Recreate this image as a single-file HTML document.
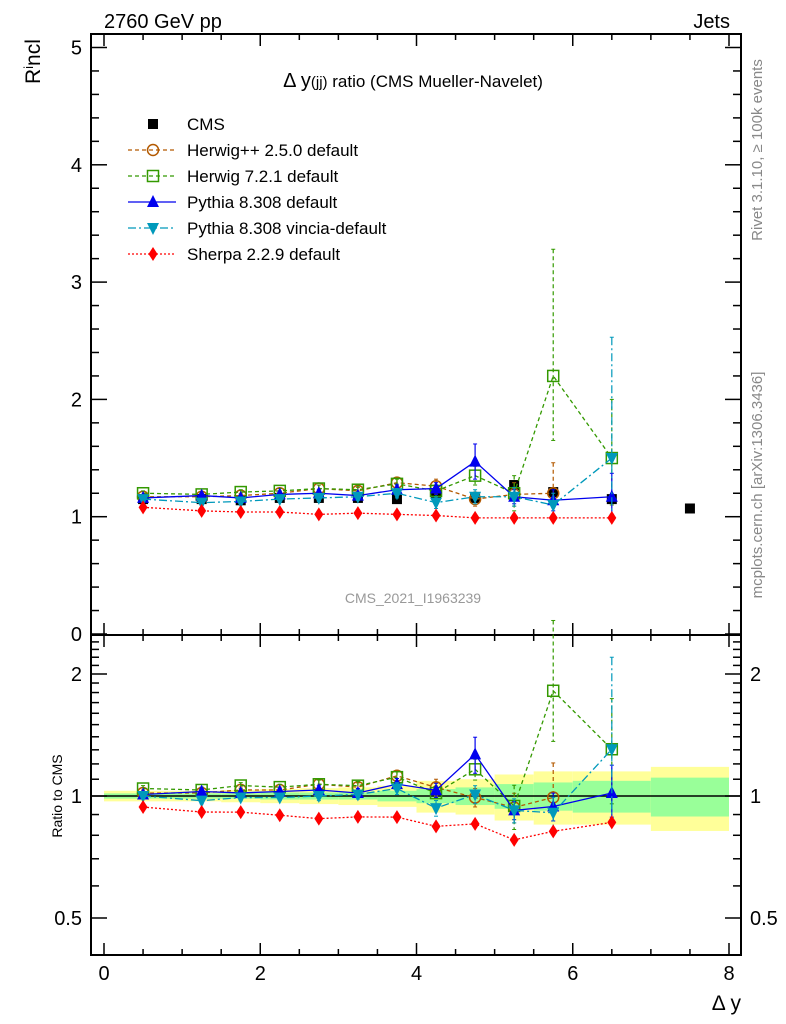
<!DOCTYPE html>
<html><head><meta charset="utf-8"><style>
body{margin:0;background:#fff}
svg{display:block;font-family:"Liberation Sans",sans-serif}
</style></head><body>
<svg id="c" width="786" height="1024" viewBox="0 0 786 1024">
<text x="104" y="28" font-size="20">2760 GeV pp</text>
<text x="730" y="28" font-size="20" text-anchor="end">Jets</text>
<text x="413" y="87" font-size="17" text-anchor="middle"><tspan font-size="20">Δ y</tspan><tspan font-size="15">(jj)</tspan> ratio (CMS Mueller-Navelet)</text>
<text transform="translate(40,84) rotate(-90)" font-size="21">R<tspan font-size="13" dy="-7">i</tspan><tspan dy="7">ncl</tspan></text>
<text transform="translate(62,796) rotate(-90)" font-size="14" text-anchor="middle">Ratio to CMS</text>
<text x="741" y="1010" font-size="21" text-anchor="end">Δ y</text>
<text transform="translate(762,150) rotate(-90)" font-size="15" fill="#888" text-anchor="middle">Rivet 3.1.10, ≥ 100k events</text>
<text transform="translate(762,485) rotate(-90)" font-size="15" fill="#888" text-anchor="middle">mcplots.cern.ch [arXiv:1306.3436]</text>
<text x="413" y="603" font-size="14" fill="#999" text-anchor="middle">CMS_2021_I1963239</text>
<g id="g"></g>
</svg>
<script>
const xc=[0.5,1.25,1.75,2.25,2.75,3.25,3.75,4.25,4.75,5.25,5.75,6.5,7.5];
const edges=[0,1,1.5,2,2.5,3,3.5,4,4.5,5,5.5,6,7,8];
const cms=[1.15,1.15,1.14,1.16,1.16,1.16,1.15,1.2,1.16,1.27,1.21,1.15,1.07];
const statRel=[0.015,0.015,0.015,0.02,0.02,0.02,0.03,0.04,0.05,0.07,0.08,0.09,0.11];
const totRel=[0.03,0.03,0.035,0.04,0.045,0.05,0.06,0.09,0.1,0.13,0.15,0.15,0.18];
const herwigpp=[1.17,1.17,1.18,1.2,1.24,1.22,1.29,1.26,1.15,1.19,1.20,null];
const herwigppErr=[0.02,0.02,0.02,0.02,0.03,0.03,0.04,0.06,0.06,0.1,0.26,0];
const herwigppErrDown=[0.02,0.02,0.02,0.02,0.03,0.03,0.04,0.06,0.06,0.1,0.1,0];
const herwig7=[1.2,1.19,1.21,1.22,1.24,1.23,1.28,1.22,1.35,1.2,2.2,1.5];
const herwig7Err=[0.02,0.02,0.02,0.02,0.03,0.03,0.04,0.05,0.08,0.15,1.08,0.5];
const herwig7ErrDown=[0.02,0.02,0.02,0.02,0.03,0.03,0.04,0.05,0.08,0.15,0.55,0.4];
const pythia=[1.16,1.18,1.16,1.19,1.2,1.18,1.23,1.24,1.47,1.17,1.14,1.17];
const pythiaErr=[0.02,0.02,0.02,0.02,0.03,0.03,0.04,0.05,0.15,0.06,0.09,0.2];
const pythiaErrDown=[0.02,0.02,0.02,0.02,0.03,0.03,0.04,0.05,0.15,0.06,0.09,0.15];
const vincia=[1.15,1.12,1.13,1.15,1.16,1.17,1.2,1.12,1.17,1.17,1.1,1.5];
const vinciaErr=[0.02,0.02,0.02,0.02,0.03,0.03,0.04,0.05,0.06,0.08,0.1,1.03];
const vinciaErrDown=[0.02,0.02,0.02,0.02,0.03,0.03,0.04,0.05,0.06,0.08,0.1,0.5];
const sherpa=[1.08,1.05,1.04,1.04,1.02,1.03,1.02,1.01,0.99,0.99,0.99,0.99];
const sherpaErr=[0.01,0.01,0.01,0.01,0.01,0.01,0.01,0.01,0.01,0.01,0.01,0.01];
const mainTicks=["0","1","2","3","4","5"];
const ratioTicks=["0.5","1","2"];
const xTicks=["0","2","4","6","8"];

const NS="http://www.w3.org/2000/svg",G=document.getElementById('g');
const L=91,R=741,T=34,M=635,B=955;
const X=v=>104+v*78.125;
const Y=v=>634-v*117.3;
const YR=v=>796-Math.log2(v)*122;
function el(t,a,p){const e=document.createElementNS(NS,t);for(const k in a)e.setAttribute(k,a[k]);(p||G).appendChild(e);return e;}
for(let i=0;i<cms.length;i++){
 let r=el('rect',{x:X(edges[i]),y:YR(1+totRel[i]),width:X(edges[i+1])-X(edges[i]),height:YR(1-totRel[i])-YR(1+totRel[i]),fill:'#ffff99'});
 
 
 let s=el('rect',{x:X(edges[i]),y:YR(1+statRel[i]),width:X(edges[i+1])-X(edges[i]),height:YR(1-statRel[i])-YR(1+statRel[i]),fill:'#99ff99'});
 
 
}
el('line',{x1:L,x2:R,y1:YR(1),y2:YR(1),stroke:'#000','stroke-width':1.5});
for(const [a,b] of [[T,M],[M,B]]){const f=el('rect',{x:L,y:a,width:R-L,height:b-a,fill:'none',stroke:'#000','stroke-width':2});
 
 }
for(let v=0;v<=8;v+=0.5){const len=(v%2===0)?12:6;
 for(const [yb,yt] of [[M,T],[B,M]]){el('line',{x1:X(v),x2:X(v),y1:yb,y2:yb-len,stroke:'#000','stroke-width':1.5});el('line',{x1:X(v),x2:X(v),y1:yt,y2:yt+len,stroke:'#000','stroke-width':1.5});}}
xTicks.forEach(t=>{const e=el('text',{x:X(+t),y:980,'font-size':20,'text-anchor':'middle'});e.textContent=t;
 
 });
for(let v=0;v<=5.1;v+=0.2){const mj=Math.abs(v-Math.round(v))<1e-6,len=mj?16:8,y=Y(v);
 el('line',{x1:L,x2:L+len,y1:y,y2:y,stroke:'#000','stroke-width':1.5});el('line',{x1:R,x2:R-len,y1:y,y2:y,stroke:'#000','stroke-width':1.5});}
mainTicks.forEach(t=>{const e=el('text',{x:82,y:Y(+t)+7,'font-size':20,'text-anchor':'end'});e.textContent=t;
 
 });
for(let v=0.4;v<=2.5;v+=0.1){const y=YR(v);if(y<M||y>B)continue;const mj=[0.5,1,2].some(m=>Math.abs(m-v)<1e-6),len=mj?16:8;
 el('line',{x1:L,x2:L+len,y1:y,y2:y,stroke:'#000','stroke-width':1.5});el('line',{x1:R,x2:R-len,y1:y,y2:y,stroke:'#000','stroke-width':1.5});}
ratioTicks.forEach(t=>{for(const [x,a] of [[82,'end'],[750,'start']]){const e=el('text',{x:x,y:YR(+t)+7,'font-size':20,'text-anchor':a});e.textContent=t;
 
 }});
function marker(k,x,y,c,g){
 if(k==='sq')el('rect',{x:x-5,y:y-5,width:10,height:10,fill:c},g);
 if(k==='osq')el('rect',{x:x-5.5,y:y-5.5,width:11,height:11,fill:'none',stroke:c,'stroke-width':1.5},g);
 if(k==='oc')el('circle',{cx:x,cy:y,r:5.5,fill:'none',stroke:c,'stroke-width':1.5},g);
 if(k==='tu')el('polygon',{points:`${x},${y-7} ${x-6},${y+5} ${x+6},${y+5}`,fill:c},g);
 if(k==='td')el('polygon',{points:`${x},${y+7} ${x-6},${y-5} ${x+6},${y-5}`,fill:c},g);
 if(k==='di')el('polygon',{points:`${x},${y-7} ${x-4.5},${y} ${x},${y+7} ${x+4.5},${y}`,fill:c},g);
}
const series=[
 {n:'herwigpp',v:herwigpp,e:herwigppErr,ed:herwigppErrDown,c:'#b35900',d:'4,3',m:'oc',lab:'Herwig++ 2.5.0 default'},
 {n:'herwig7',v:herwig7,e:herwig7Err,ed:herwig7ErrDown,c:'#339900',d:'4,3',m:'osq',lab:'Herwig 7.2.1 default'},
 {n:'pythia',v:pythia,e:pythiaErr,ed:pythiaErrDown,c:'#0000ee',d:'',m:'tu',lab:'Pythia 8.308 default'},
 {n:'vincia',v:vincia,e:vinciaErr,ed:vinciaErrDown,c:'#0099bb',d:'8,3,2,3',m:'td',lab:'Pythia 8.308 vincia-default'},
 {n:'sherpa',v:sherpa,e:sherpaErr,ed:sherpaErr,c:'#ff0000',d:'2,2',m:'di',lab:'Sherpa 2.2.9 default'}];
const cg=el('g',{});


cms.forEach((v,i)=>marker('sq',X(xc[i]),Y(v),'#000',cg));
series.forEach(s=>{
 const g=el('g',{});
 
 
 for(const [fy,rat] of [[Y,false],[YR,true]]){
  const pts=[];
  s.v.forEach((v,i)=>{if(v==null)return;const val=rat?v/cms[i]:v,eu=rat?s.e[i]/cms[i]:s.e[i],edn=rat?s.ed[i]/cms[i]:s.ed[i];
   const x=X(xc[i]);pts.push([x,fy(val)]);
   if(eu>0){el('line',{x1:x,x2:x,y1:fy(val+eu),y2:fy(Math.max(val-edn,0.41)),stroke:s.c,'stroke-width':1.2,'stroke-dasharray':s.d},g);
    el('line',{x1:x-2,x2:x+2,y1:fy(val+eu),y2:fy(val+eu),stroke:s.c},g);
    el('line',{x1:x-2,x2:x+2,y1:fy(val-edn),y2:fy(val-edn),stroke:s.c},g);}});
  el('polyline',{points:pts.map(p=>p.join(',')).join(' '),fill:'none',stroke:s.c,'stroke-width':1.3,'stroke-dasharray':s.d},g);
  pts.forEach(p=>marker(s.m,p[0],p[1],s.c,g));
 }
});
const lg=el('g',{});


marker('sq',153,124,'#000',lg);
let t0=el('text',{x:187,y:130,'font-size':17},lg);t0.textContent='CMS';
series.forEach((s,i)=>{const y=150+26*i;
 el('line',{x1:128,x2:176,y1:y,y2:y,stroke:s.c,'stroke-width':1.3,'stroke-dasharray':s.d},lg);
 marker(s.m,153,y,s.c,lg);
 const t=el('text',{x:187,y:y+6,'font-size':17},lg);t.textContent=s.lab;
 
 });
</script>
</body></html>
